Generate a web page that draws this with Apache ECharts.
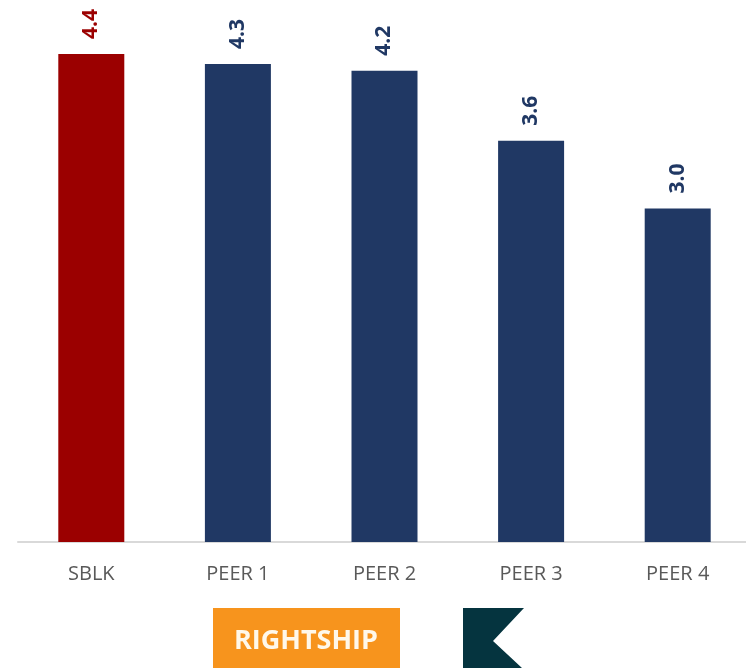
<!DOCTYPE html>
<html>
<head>
<meta charset="utf-8">
<script src="https://cdn.jsdelivr.net/npm/echarts@6/dist/echarts.min.js"></script>
<style>
  html, body { margin: 0; padding: 0; background: #fff; overflow: hidden; }
  #main { width: 751px; height: 668px; }
</style>
</head>
<body>
<div id="main"></div>
<script>
const categories = ['SBLK', 'PEER 1', 'PEER 2', 'PEER 3', 'PEER 4']
const scores = [4.39, 4.3, 4.24, 3.61, 3.0]
const highlight = 'SBLK'

const RED = '#9b0000'
const NAVY = '#203864'

const chart = echarts.init(document.getElementById('main'))

chart.setOption({
  animation: false,
  grid: { left: 18, right: 0, top: 54, bottom: 126 },
  xAxis: {
    type: 'category',
    data: categories,
    axisLine: { lineStyle: { color: '#d9d9d9', width: 2 } },
    axisTick: { show: false },
    axisLabel: {
      margin: 22,
      fontFamily: 'Open Sans',
      fontSize: 20,
      color: '#595959'
    }
  },
  yAxis: {
    type: 'value',
    min: 0,
    max: 4.39,
    show: false,
    splitLine: { show: false }
  },
  series: [
    {
      type: 'bar',
      barWidth: 66,
      data: scores.map((v, i) => {
        const c = categories[i] === highlight ? RED : NAVY
        return { value: v, itemStyle: { color: c }, label: { color: c } }
      }),
      label: {
        show: true,
        position: 'top',
        rotate: 90,
        align: 'left',
        verticalAlign: 'middle',
        distance: 15,
        fontFamily: 'Open Sans',
        fontWeight: 'bold',
        fontSize: 21,
        formatter: p => p.value.toFixed(1)
      }
    }
  ],
  graphic: [
    {
      type: 'rect',
      shape: { x: 213, y: 608, width: 187, height: 62 },
      style: { fill: '#f7941d' }
    },
    {
      type: 'text',
      x: 306,
      y: 641,
      style: {
        text: 'RIGHTSHIP',
        fill: '#fff8ea',
        font: 'bold 27px "Open Sans"',
        align: 'center',
        verticalAlign: 'middle'
      }
    },
    {
      type: 'polygon',
      shape: { points: [[463, 608], [524, 608], [493, 641], [522, 668], [463, 668]] },
      style: { fill: '#05343f' }
    }
  ]
})

window.addEventListener('resize', () => {
  chart.resize()
})
</script>
</body>
</html>
